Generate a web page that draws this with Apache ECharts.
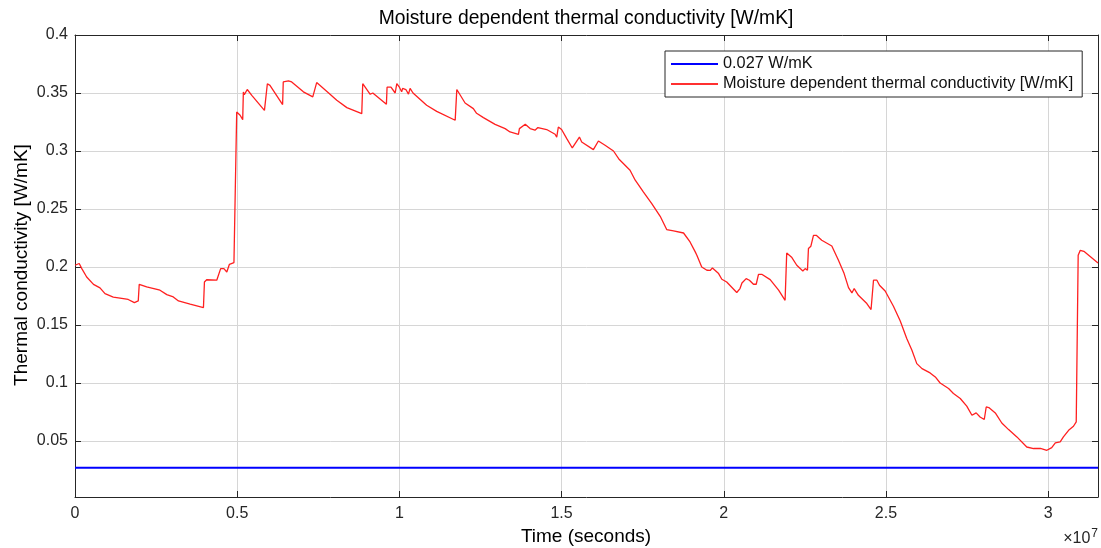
<!DOCTYPE html>
<html>
<head>
<meta charset="utf-8">
<script src="https://cdn.jsdelivr.net/npm/echarts@6/dist/echarts.min.js"></script>
<style>
html,body{margin:0;padding:0;background:#fff;}
#chart{width:1101px;height:548px;}
</style>
</head>
<body>
<div id="chart"></div>
<script>
// Time in units of 1e7 seconds
const timeE7 = [0,0.013,0.021,0.036,0.057,0.077,0.0925,0.118,0.144,0.149,0.164,0.183,0.195,0.198,0.221,0.262,0.283,0.303,0.319,0.355,0.396,0.399,0.406,0.437,0.443,0.449,0.459,0.468,0.476,0.49,0.4955,0.4985,0.509,0.517,0.519,0.522,0.531,0.545,0.584,0.593,0.601,0.640,0.642,0.658,0.668,0.704,0.733,0.745,0.781,0.807,0.838,0.884,0.887,0.91,0.918,0.96,0.962,0.974,0.987,0.992,1.0,1.007,1.01,1.02,1.028,1.033,1.042,1.084,1.115,1.172,1.177,1.2025,1.228,1.238,1.259,1.295,1.326,1.341,1.367,1.37,1.388,1.403,1.418,1.427,1.454,1.48,1.485,1.49,1.5,1.516,1.533,1.555,1.562,1.598,1.6135,1.634,1.66,1.678,1.711,1.727,1.752,1.778,1.804,1.824,1.845,1.876,1.896,1.912,1.917,1.932,1.948,1.958,1.965,1.984,1.994,2.009,2.04,2.05,2.056,2.062,2.069,2.079,2.0915,2.1,2.107,2.117,2.143,2.169,2.189,2.194,2.21,2.225,2.2437,2.251,2.258,2.261,2.2685,2.2765,2.285,2.302,2.333,2.3535,2.371,2.3845,2.395,2.402,2.415,2.441,2.454,2.4615,2.472,2.48,2.4975,2.523,2.544,2.564,2.58,2.595,2.611,2.636,2.652,2.667,2.693,2.708,2.729,2.749,2.765,2.778,2.79,2.803,2.809,2.817,2.837,2.857,2.878,2.9035,2.934,2.955,2.976,2.996,3.011,3.022,3.037,3.047,3.063,3.078,3.0865,3.0925,3.099,3.11,3.1536];
const conductivity = [0.2015,0.203,0.1986,0.1914,0.185,0.182,0.177,0.174,0.173,0.1735,0.172,0.1693,0.1707,0.185,0.1828,0.18,0.1762,0.1742,0.1707,0.168,0.165,0.187,0.189,0.1886,0.187,0.1986,0.1986,0.1957,0.2023,0.2038,0.203,0.3336,0.3308,0.327,0.3509,0.3486,0.353,0.348,0.335,0.358,0.3566,0.340,0.3595,0.3604,0.3595,0.351,0.3466,0.359,0.3503,0.3437,0.3374,0.3322,0.358,0.3489,0.350,0.3403,0.355,0.355,0.350,0.358,0.355,0.351,0.354,0.353,0.349,0.354,0.350,0.3394,0.3342,0.3265,0.353,0.3414,0.3365,0.3325,0.3288,0.323,0.3193,0.3164,0.3144,0.3193,0.323,0.3193,0.3179,0.3202,0.3185,0.3144,0.312,0.3207,0.3185,0.3107,0.3026,0.312,0.3078,0.3012,0.3086,0.305,0.3,0.2926,0.2834,0.2748,0.2647,0.2547,0.2437,0.2323,0.2311,0.2293,0.2216,0.213,0.2101,0.2,0.1972,0.197,0.1992,0.1943,0.1894,0.1871,0.178,0.1814,0.1862,0.1862,0.19,0.1886,0.1851,0.1851,0.1937,0.1937,0.1891,0.18,0.1713,0.2121,0.2081,0.2015,0.1966,0.1986,0.1972,0.2159,0.2179,0.2273,0.2273,0.223,0.2181,0.2058,0.1943,0.1822,0.1776,0.1814,0.1756,0.1685,0.1633,0.1886,0.1886,0.1843,0.1793,0.1662,0.1535,0.1383,0.1282,0.1167,0.1124,0.1087,0.1052,0.1,0.0952,0.0909,0.0866,0.08,0.0722,0.0742,0.0707,0.0685,0.0793,0.0788,0.0742,0.0655,0.0598,0.0535,0.0448,0.0435,0.0436,0.042,0.0443,0.0483,0.0492,0.0535,0.0592,0.0627,0.0664,0.2101,0.2144,0.2135,0.2034];
const refTime = [0, 3.1536];
const refValue = [0.027, 0.027];
const xTicks = [0, 0.5, 1, 1.5, 2, 2.5, 3];
const yTicks = [0.05, 0.1, 0.15, 0.2, 0.25, 0.3, 0.35, 0.4];
const seriesNames = ['0.027 W/mK', 'Moisture dependent thermal conductivity [W/mK]'];
const titleText = 'Moisture dependent thermal conductivity [W/mK]';
const xLabel = 'Time (seconds)';
const yLabel = 'Thermal conductivity [W/mK]';

const FONT = '"Liberation Sans", Arial, Helvetica, sans-serif';
const AX = '#262626';
const GRID = '#d6d6d6';

const mainData = timeE7.map((t, i) => [t, conductivity[i]]);
const refData = refTime.map((t, i) => [t, refValue[i]]);

const chart = echarts.init(document.getElementById('chart'), null, {renderer: 'canvas'});
const commonX = {
  type: 'value', min: 0, max: 3.1536,
  axisLine: {show: true, onZero: false, lineStyle: {color: AX, width: 1}},
  axisTick: {show: true, inside: true, length: 6, customValues: xTicks, lineStyle: {color: AX}},
  splitLine: {show: false}
};
const commonY = {
  type: 'value', min: 0.0017, max: 0.4,
  axisLine: {show: true, onZero: false, lineStyle: {color: AX, width: 1}},
  axisTick: {show: true, inside: true, length: 6, customValues: yTicks, lineStyle: {color: AX}},
  splitLine: {show: false}
};
chart.setOption({
  animation: false,
  backgroundColor: '#fff',
  grid: {left: 75, right: 3, top: 35, bottom: 51, containLabel: false},
  xAxis: [
    Object.assign({}, commonX, {
      position: 'bottom',
      axisLabel: {show: true, customValues: xTicks, color: AX, fontFamily: FONT, fontSize: 16, margin: 9,
        formatter: v => String(Math.round(v * 10) / 10)},
      splitLine: {show: true, lineStyle: {color: GRID, width: 1}}
    }),
    Object.assign({}, commonX, {position: 'top', axisLabel: {show: false}})
  ],
  yAxis: [
    Object.assign({}, commonY, {
      position: 'left',
      axisLabel: {show: true, customValues: yTicks, color: AX, fontFamily: FONT, fontSize: 16, margin: 7,
        formatter: v => String(Math.round(v * 100) / 100)},
      splitLine: {show: true, lineStyle: {color: GRID, width: 1}}
    }),
    Object.assign({}, commonY, {position: 'right', axisLabel: {show: false}})
  ],
  legend: {
    show: true, orient: 'vertical', left: 665, top: 51,
    backgroundColor: '#fff', borderColor: '#262626', borderWidth: 1,
    padding: [5, 9, 5, 6], itemGap: 4, itemWidth: 47, itemHeight: 2, icon: 'rect',
    textStyle: {color: '#111', fontFamily: FONT, fontSize: 16.3, lineHeight: 14},
    data: seriesNames
  },
  series: [
    {name: seriesNames[0], type: 'line', data: refData, symbol: 'none', xAxisIndex: 0, yAxisIndex: 0,
      lineStyle: {color: '#0000ff', width: 2}, itemStyle: {color: '#0000ff'}, z: 3},
    {name: seriesNames[1], type: 'line', data: mainData, symbol: 'none', xAxisIndex: 0, yAxisIndex: 0,
      lineStyle: {color: '#ff2020', width: 1.3}, itemStyle: {color: '#ff3030'}, z: 4}
  ],
  graphic: [
    {type: 'text', x: 586, y: 19, style: {text: titleText, textAlign: 'center', textVerticalAlign: 'middle',
      fill: '#000', font: '19.3px ' + FONT}},
    {type: 'text', x: 586, y: 537, style: {text: xLabel, textAlign: 'center', textVerticalAlign: 'middle',
      fill: '#000', font: '19px ' + FONT}},
    {type: 'text', x: 22, y: 265, rotation: Math.PI / 2, style: {text: yLabel, textAlign: 'center', textVerticalAlign: 'middle',
      fill: '#000', font: '19px ' + FONT}},
    {type: 'text', x: 1098, y: 539, style: {
      text: '{a|×10}{b|7}', textVerticalAlign: 'middle', textAlign: 'right',
      rich: {a: {fontSize: 16, fontFamily: FONT, fill: AX, color: AX}, b: {fontSize: 12, fontFamily: FONT, fill: AX, color: AX, verticalAlign: 'top', padding: [0, 0, 10, 1]}}
    }}
  ]
});
</script>
</body>
</html>
